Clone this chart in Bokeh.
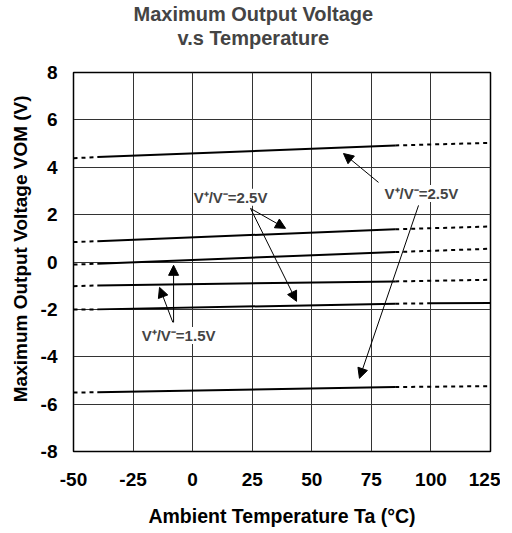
from bokeh.plotting import figure
from bokeh.models import Title, Arrow, NormalHead, Label, Range1d, FixedTicker
from bokeh.embed import file_html
from bokeh.resources import INLINE

# ---- data ----
x_ticks = [-50, -25, 0, 25, 50, 75, 100, 125]
y_ticks = [-8, -6, -4, -2, 0, 2, 4, 6, 8]

# temperatures where each curve is sampled
temps = [-50, -40, 85, 125]
# curve values (V) at temps
vom_high_25 = [4.38, 4.43, 4.92, 5.03]
vom_high_15 = [0.84, 0.88, 1.38, 1.50]
vom_mid_15 = [-0.11, -0.07, 0.42, 0.56]
vom_mid2_15 = [-1.02, -0.99, -0.82, -0.75]
vom_low_15 = [-2.01, -2.00, -1.76, -1.73]
vom_low_25 = [-5.51, -5.50, -5.28, -5.24]
# break point of the low 1.5V curve on the right (dotted -> solid)
low15_break_t = 100
low15_break_v = -1.745

label_25 = "V\u207a/V\u207b=2.5V"
label_15 = "V\u207a/V\u207b=1.5V"

FONT = "Liberation Sans"

p = figure(frame_width=417, frame_height=379,
           x_range=Range1d(-50, 125), y_range=Range1d(-8, 8),
           output_backend="svg", toolbar_location=None,
           min_border_left=73, min_border_right=10,
           min_border_top=0, min_border_bottom=0)

spacer = Title(text=" ", text_font_size="2px", standoff=20)
t_bot = Title(text="v.s Temperature", align="left", offset=104,
              text_font=FONT, text_font_size="20px", text_font_style="bold",
              standoff=0)
t_top = Title(text="Maximum Output Voltage", align="left", offset=60,
              text_font=FONT, text_font_size="20px", text_font_style="bold",
              standoff=0)
p.add_layout(spacer, "above")
p.add_layout(t_bot, "above")
p.add_layout(t_top, "above")

for ax in (p.xaxis[0], p.yaxis[0]):
    ax.major_label_text_font = FONT
    ax.major_label_text_font_size = "19px"
    ax.major_label_text_font_style = "bold"
    ax.major_label_text_color = "black"
    ax.axis_label_text_font = FONT
    ax.axis_label_text_font_style = "bold"
    ax.axis_label_text_color = "black"
    ax.major_tick_out = 0
    ax.major_tick_in = 0
    ax.minor_tick_out = 0
    ax.minor_tick_in = 0
    ax.axis_line_color = "black"

p.xaxis.ticker = FixedTicker(ticks=x_ticks)
p.yaxis.ticker = FixedTicker(ticks=y_ticks)
p.xaxis.major_label_overrides = {t: str(t) for t in x_ticks}
p.yaxis.major_label_overrides = {t: str(t) for t in y_ticks}
p.xaxis.axis_label = "Ambient Temperature Ta (\u00b0C)"
p.yaxis.axis_label = "\u00a0" * 5 + "Maximum Output Voltage VOM (V)"
p.xaxis.axis_label_text_font_size = "19.5px"
p.yaxis.axis_label_text_font_size = "19px"
p.xaxis.major_label_standoff = 21
p.xaxis.axis_label_standoff = 16
p.yaxis.major_label_standoff = 16
p.yaxis.axis_label_standoff = 7

p.xgrid.ticker = FixedTicker(ticks=x_ticks)
p.ygrid.ticker = FixedTicker(ticks=y_ticks)
p.grid.grid_line_color = "#333333"
p.grid.grid_line_width = 1
p.outline_line_color = "black"
p.outline_line_width = 1.5

def draw(vals):
    p.line(temps[0:2], vals[0:2], line_color="black", line_width=2, line_dash="4 4")
    p.line(temps[1:3], vals[1:3], line_color="black", line_width=2)
    p.line(temps[2:4], vals[2:4], line_color="black", line_width=2, line_dash="4 4")

for v in (vom_high_25, vom_high_15, vom_mid_15, vom_mid2_15, vom_low_25):
    draw(v)

# low 1.5V curve: dotted 85..100, solid 100..125
p.line(temps[0:2], vom_low_15[0:2], line_color="black", line_width=2, line_dash="4 4")
p.line(temps[1:3], vom_low_15[1:3], line_color="black", line_width=2)
p.line([temps[2], low15_break_t], [vom_low_15[2], low15_break_v],
       line_color="black", line_width=2, line_dash="4 4")
p.line([low15_break_t, temps[3]], [low15_break_v, vom_low_15[3]],
       line_color="black", line_width=2)

# arrows (start x, start y, end x, end y)
arrows = [
    (78.0, 3.36, 63.3, 4.58),
    (94.8, 2.39, 70.0, -4.91),
    (24.3, 2.26, 39.0, 1.42),
    (24.3, 2.26, 43.6, -1.66),
    (-8.0, -2.55, -8.0, -0.14),
    (-8.3, -2.55, -13.9, -1.07),
]
for xs, ys, xe, ye in arrows:
    p.add_layout(Arrow(x_start=xs, y_start=ys, x_end=xe, y_end=ye,
                       line_color="black", line_width=1,
                       end=NormalHead(size=10, fill_color="black",
                                      line_color="black", line_width=1)))

labels = [
    (15.9, 2.73, label_25),
    (96.0, 2.89, label_25),
    (-5.9, -3.10, label_15),
]
for lx, ly, txt in labels:
    p.add_layout(Label(x=lx, y=ly, text=txt, text_align="center",
                       text_baseline="middle", text_font=FONT,
                       text_font_size="15px", text_font_style="bold",
                       background_fill_color="white"))

open("out.html", "w").write(file_html(p, INLINE))
